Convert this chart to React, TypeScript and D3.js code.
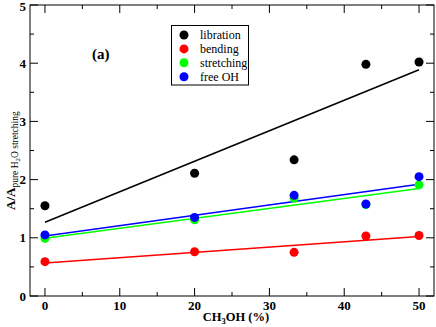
import React from 'react';
import * as d3 from 'd3';

// CH3OH concentration (%)
const methanol = [0, 20, 33.3, 42.9, 50];

const libration = [1.55, 2.11, 2.34, 3.98, 4.02];
const bending = [0.59, 0.76, 0.75, 1.03, 1.04];
const stretching = [0.99, 1.31, 1.68, 1.57, 1.91];
const freeOH = [1.05, 1.35, 1.73, 1.58, 2.05];

const seriesNames = ['libration', 'bending', 'stretching', 'free OH'];
const seriesColors = ['#000000', '#ff0000', '#00ff00', '#0000ff'];

const xTicks = [0, 10, 20, 30, 40, 50];
const yTicks = [0, 1, 2, 3, 4, 5];

const W = 436;
const H = 327;
const frame = { left: 30, right: 434, top: 5, bottom: 296 };

// least squares line through one series
function fit(xs: number[], ys: number[]) {
  const mx = d3.mean(xs)!;
  const my = d3.mean(ys)!;
  let num = 0;
  let den = 0;
  xs.forEach((x, i) => {
    num += (x - mx) * (ys[i] - my);
    den += (x - mx) * (x - mx);
  });
  const slope = num / den;
  return { slope, intercept: my - slope * mx };
}

export default function App() {
  const x = d3.scaleLinear().domain([-2, 52]).range([frame.left, frame.right]);
  const y = d3.scaleLinear().domain([0, 5]).range([frame.bottom, frame.top]);
  const allSeries = [libration, bending, stretching, freeOH];

  const xMinor = d3.range(5, 50, 10);
  const yMinor = d3.range(0.5, 5, 1);
  const line = d3.line<[number, number]>().x(d => x(d[0])).y(d => y(d[1]));

  const serif = "'Liberation Serif', 'Times New Roman', serif";

  return (
    <svg width={W} height={H} style={{ position: 'absolute', left: 0, top: 0, background: '#fff', fontFamily: serif }}>
      <rect x={0} y={0} width={W} height={H} fill="#fff" />

      {/* ticks, inward on all four sides */}
      <g stroke="#000" strokeWidth={1}>
        {xTicks.map(t => (
          <g key={'xt' + t}>
            <line x1={x(t)} x2={x(t)} y1={frame.bottom} y2={frame.bottom - 8} />
            <line x1={x(t)} x2={x(t)} y1={frame.top} y2={frame.top + 8} />
          </g>
        ))}
        {xMinor.map(t => (
          <g key={'xm' + t}>
            <line x1={x(t)} x2={x(t)} y1={frame.bottom} y2={frame.bottom - 4} />
            <line x1={x(t)} x2={x(t)} y1={frame.top} y2={frame.top + 4} />
          </g>
        ))}
        {yTicks.map(t => (
          <g key={'yt' + t}>
            <line x1={frame.left} x2={frame.left + 8} y1={y(t)} y2={y(t)} />
            <line x1={frame.right} x2={frame.right - 8} y1={y(t)} y2={y(t)} />
          </g>
        ))}
        {yMinor.map(t => (
          <g key={'ym' + t}>
            <line x1={frame.left} x2={frame.left + 4} y1={y(t)} y2={y(t)} />
            <line x1={frame.right} x2={frame.right - 4} y1={y(t)} y2={y(t)} />
          </g>
        ))}
      </g>

      {/* tick labels */}
      <g fontSize={13} fontWeight="bold" fill="#000">
        {xTicks.map(t => (
          <text key={'xl' + t} x={x(t)} y={310} textAnchor="middle">{t}</text>
        ))}
        {yTicks.map(t => (
          <text key={'yl' + t} x={26} y={Math.max(y(t) + 4.5, 11)} textAnchor="end">{t}</text>
        ))}
      </g>

      {/* fit lines */}
      {allSeries.map((ys, i) => {
        const f = fit(methanol, ys);
        const ends: [number, number][] = [0, 50].map(v => [v, f.intercept + f.slope * v]);
        return <path key={'fit' + i} d={line(ends)!} fill="none" stroke={seriesColors[i]} strokeWidth={1.5} />;
      })}

      {/* points */}
      {allSeries.map((ys, i) => (
        <g key={'pts' + i} fill={seriesColors[i]}>
          {ys.map((v, j) => (
            <circle key={j} cx={x(methanol[j])} cy={y(v)} r={4.5} />
          ))}
        </g>
      ))}

      {/* frame */}
      <rect x={frame.left} y={frame.top} width={frame.right - frame.left} height={frame.bottom - frame.top}
        fill="none" stroke="#000" strokeWidth={1} />

      {/* panel tag */}
      <text x={92} y={59} fontSize={15} fontWeight="bold">(a)</text>

      {/* legend */}
      <g>
        <rect x={171.5} y={25.5} width={77} height={59.5} fill="#fff" stroke="#000" strokeWidth={1} />
        {seriesNames.map((name, i) => (
          <g key={name}>
            <circle cx={184} cy={35 + i * 13.9} r={4.5} fill={seriesColors[i]} />
            <text x={200} y={35 + i * 13.9 + 4} fontSize={12}>{name}</text>
          </g>
        ))}
      </g>

      {/* axis titles */}
      <text x={236} y={321} fontSize={12.5} fontWeight="bold" textAnchor="middle">
        CH<tspan fontSize={8.5} dy={3}>3</tspan><tspan dy={-3}>OH (%)</tspan>
      </text>
      <text transform="translate(15,210) rotate(-90)" textAnchor="start">
        <tspan fontSize={13} fontWeight="bold">A/A</tspan>
        <tspan fontSize={9.5} dy={3}>pure H</tspan>
        <tspan fontSize={7} dy={2}>2</tspan>
        <tspan fontSize={9.5} dy={-2}>O stretching</tspan>
      </text>
    </svg>
  );
}
